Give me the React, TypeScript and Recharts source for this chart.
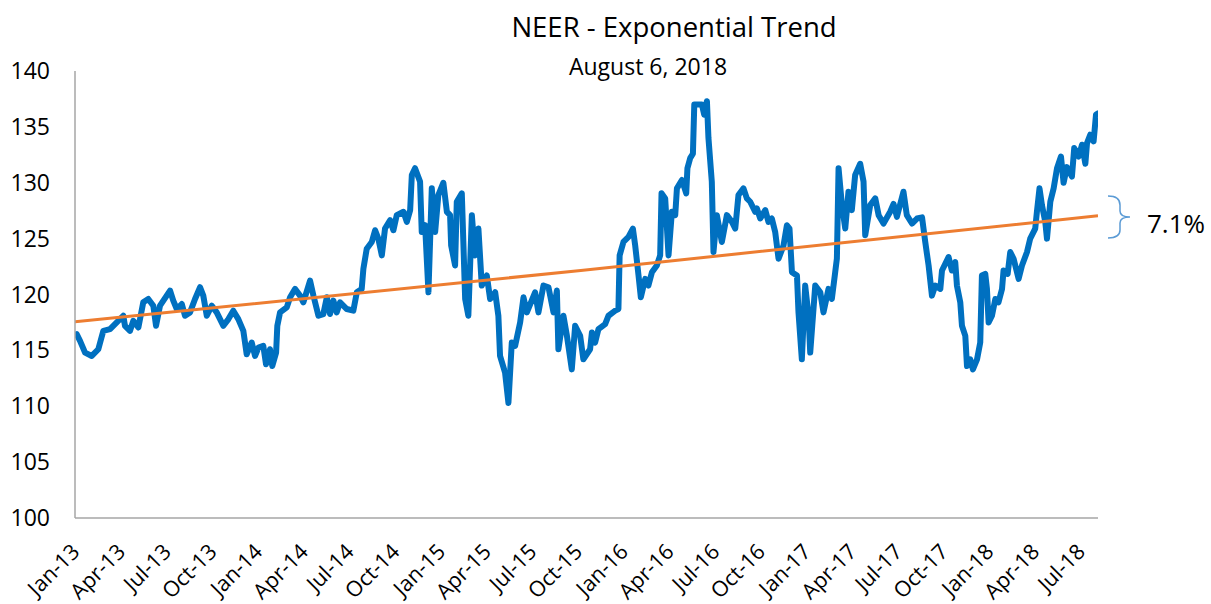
import { LineChart, Line, XAxis, YAxis } from 'recharts'

// months since Jan-13
const NEER_MONTHS = [
  0.11, 0.33, 0.66, 1.1, 1.53, 1.86, 2.3, 2.74, 3.17, 3.28, 3.61, 3.83, 4.16, 4.48, 4.81, 5.14, 5.32, 5.58,
  6.02, 6.24, 6.45, 6.68, 7.01, 7.22, 7.55, 7.88, 8.21, 8.42, 8.65, 8.98, 9.3, 9.74, 10.07, 10.39, 10.72,
  11.05, 11.27, 11.6, 11.82, 12.04, 12.36, 12.54, 12.8, 12.95, 13.2, 13.28, 13.46, 13.9, 14.12, 14.44,
  14.77, 14.99, 15.43, 15.65, 15.98, 16.3, 16.53, 16.74, 16.96, 17.18, 17.4, 17.84, 18.27, 18.5, 18.82,
  18.93, 19.15, 19.48, 19.7, 19.91, 20.14, 20.35, 20.68, 20.9, 21.12, 21.56, 21.78, 22.0, 22.11, 22.32,
  22.65, 22.76, 22.98, 23.2, 23.42, 23.64, 23.85, 24.18, 24.41, 24.62, 24.69, 24.95, 25.06, 25.39, 25.61,
  25.82, 26.05, 26.26, 26.48, 26.7, 27.03, 27.25, 27.58, 27.79, 27.9, 28.23, 28.45, 28.67, 28.89, 29.22,
  29.44, 29.66, 30.2, 30.42, 30.75, 31.08, 31.41, 31.63, 31.73, 32.06, 32.29, 32.61, 32.83, 33.16, 33.37,
  33.81, 33.93, 34.14, 34.36, 34.8, 35.02, 35.46, 35.67, 35.75, 36.0, 36.33, 36.62, 36.77, 36.99, 37.14,
  37.43, 37.64, 37.87, 38.19, 38.41, 38.5, 38.74, 38.96, 39.18, 39.4, 39.51, 39.84, 40.12, 40.2, 40.38,
  40.56, 40.65, 41.15, 41.3, 41.48, 41.58, 41.8, 41.91, 42.13, 42.46, 42.79, 43.12, 43.34, 43.55, 43.88,
  44.1, 44.32, 44.65, 44.76, 44.98, 45.31, 45.52, 45.74, 45.96, 46.18, 46.51, 46.73, 46.9, 47.06, 47.39,
  47.49, 47.71, 47.93, 48.15, 48.26, 48.59, 48.92, 49.13, 49.46, 49.68, 49.9, 50.01, 50.12, 50.34, 50.56,
  50.77, 50.99, 51.21, 51.54, 51.76, 51.87, 52.2, 52.53, 52.75, 53.07, 53.51, 53.73, 53.95, 54.38, 54.6,
  54.94, 55.27, 55.6, 55.81, 56.03, 56.25, 56.47, 56.8, 56.91, 57.34, 57.56, 57.78, 57.89, 58.11, 58.22,
  58.44, 58.55, 58.76, 58.94, 59.21, 59.42, 59.53, 59.75, 59.86, 59.97, 60.19, 60.41, 60.62, 60.85, 60.95,
  61.22, 61.39, 61.61, 61.94, 62.16, 62.49, 62.7, 63.03, 63.14, 63.31, 63.47, 63.69, 63.8, 64.02, 64.24,
  64.46, 64.72, 64.89, 65.11, 65.44, 65.59, 65.88, 66.1, 66.32, 66.43, 66.64, 66.86, 67.02, 67.15,
]

const NEER_VALUES = [
  116.45, 115.85, 114.8, 114.5, 115.1, 116.75, 116.9, 117.5, 118.1, 117.2, 116.75, 117.65, 117.05, 119.3, 119.6, 119.0, 117.2, 119.0,
  119.9, 120.35, 119.45, 118.7, 119.15, 118.1, 118.4, 119.6, 120.65, 119.9, 118.1, 119.0, 118.4, 117.2, 117.8, 118.55, 117.8,
  116.75, 114.65, 115.7, 114.5, 115.25, 115.4, 113.75, 115.1, 113.6, 114.8, 117.2, 118.4, 118.85, 119.75, 120.5,
  119.9, 119.3, 121.25, 119.9, 118.1, 118.25, 119.75, 118.25, 119.45, 118.4, 119.3, 118.7, 118.55, 120.2, 120.5,
  122.3, 124.1, 124.7, 125.75, 125.0, 123.5, 125.9, 126.65, 125.75, 127.1, 127.4, 126.5, 127.55, 130.7, 131.3,
  130.1, 125.6, 126.2, 120.2, 129.5, 125.6, 128.9, 130.0, 127.4, 127.1, 124.4, 122.6, 128.3, 129.05, 119.6,
  118.1, 127.1, 123.5, 125.9, 120.8, 121.7, 119.6, 120.2, 118.1, 114.5, 113.0, 110.3, 115.7, 115.4, 117.5,
  119.75, 118.4, 120.2, 118.4, 120.8, 120.65, 118.4, 120.35, 115.1, 118.1, 116.3, 113.3, 117.2, 116.3, 114.2,
  115.1, 116.6, 115.7, 116.9, 117.35, 118.1, 118.55, 118.7, 123.5, 124.7, 125.15, 125.9, 124.4, 121.7, 119.75,
  121.4, 120.8, 122.0, 122.6, 123.5, 129.05, 128.6, 123.5, 127.4, 127.1, 129.5, 130.25, 129.05, 131.3, 132.2,
  132.6, 137.0, 137.0, 136.1, 137.3, 134.0, 130.1, 123.8, 127.1, 124.7, 127.1, 126.5, 125.9, 128.9, 129.5,
  128.6, 128.3, 127.4, 127.7, 126.8, 127.55, 126.5, 126.8, 125.6, 123.2, 124.4, 126.2, 125.9, 122.0, 121.7,
  118.4, 114.2, 120.8, 118.1, 114.8, 120.8, 120.2, 118.4, 120.5, 119.6, 122.0, 123.2, 131.3, 128.0, 125.9,
  129.2, 127.55, 130.7, 131.7, 130.1, 125.3, 128.0, 128.6, 127.1, 126.35, 127.4, 128.1, 126.95, 129.2, 127.1,
  126.35, 126.8, 126.9, 124.7, 122.6, 119.9, 120.8, 120.5, 122.15, 123.35, 122.15, 122.9, 120.8, 119.3, 117.2,
  116.3, 113.6, 114.2, 113.3, 114.2, 115.7, 121.7, 121.85, 120.5, 117.5, 118.1, 119.6, 119.3, 120.5, 122.15,
  121.85, 123.8, 123.2, 121.4, 122.6, 123.8, 125.0, 125.9, 127.4, 129.5, 128.0, 126.5, 125.0, 128.3, 129.5,
  131.3, 132.35, 130.0, 131.4, 130.55, 133.1, 132.35, 133.4, 131.7, 133.55, 134.3, 133.7, 136.1, 136.2,
]

const TREND_MONTHS = [0, 33.2, 67.15]
const TREND_VALUES = [117.55, 122.15, 127.05]

const X_LABELS = [
  'Jan-13', 'Apr-13', 'Jul-13', 'Oct-13', 'Jan-14', 'Apr-14', 'Jul-14', 'Oct-14',
  'Jan-15', 'Apr-15', 'Jul-15', 'Oct-15', 'Jan-16', 'Apr-16', 'Jul-16', 'Oct-16',
  'Jan-17', 'Apr-17', 'Jul-17', 'Oct-17', 'Jan-18', 'Apr-18', 'Jul-18',
]
const Y_TICKS = [100, 105, 110, 115, 120, 125, 130, 135, 140]

const FONT = "'Open Sans', sans-serif"
const BLUE = '#0070C0'
const ORANGE = '#ED7D31'
const AXIS = '#A6A6A6'

const neer = NEER_MONTHS.map((m, i) => ({ m, v: NEER_VALUES[i] }))
const trend = TREND_MONTHS.map((m, i) => ({ m, v: TREND_VALUES[i] }))
const xTicks = X_LABELS.map((_, i) => i * 3)

function XTick({ x, y, payload }: any) {
  const label = X_LABELS[Math.round(payload.value / 3)]
  const ax = x + 6
  const ay = y + 35
  return (
    <text
      x={ax} y={ay}
      textAnchor="end"
      transform={`rotate(-45, ${ax}, ${ay})`}
      fontFamily={FONT} fontSize={21.5} fill="#000"
    >
      {label}
    </text>
  )
}

function YTick({ x, y, payload }: any) {
  return (
    <text x={x - 25} y={y + 8} textAnchor="end" fontFamily={FONT} fontSize={23} fill="#000">
      {payload.value}
    </text>
  )
}

export default function App() {
  return (
    <div style={{ position: 'absolute', left: 0, top: 0, width: 1211, height: 604, background: '#fff' }}>
      <LineChart width={1211} height={604} margin={{ top: 71, right: 113, bottom: 26, left: 15 }}>
        <XAxis
          type="number"
          dataKey="m"
          domain={[0, 67.15]}
          ticks={xTicks}
          interval={0}
          height={60}
          tickSize={0}
          tickMargin={0}
          tickLine={false}
          axisLine={{ stroke: AXIS, strokeWidth: 1.5 }}
          tick={<XTick />}
          allowDataOverflow
        />
        <YAxis
          type="number"
          domain={[100, 140]}
          ticks={Y_TICKS}
          interval={0}
          width={60}
          tickSize={0}
          tickMargin={0}
          tickLine={false}
          axisLine={{ stroke: AXIS, strokeWidth: 1.5 }}
          tick={<YTick />}
        />
        <Line
          data={neer}
          dataKey="v"
          stroke={BLUE}
          strokeWidth={6}
          strokeLinejoin="round"
          strokeLinecap="round"
          dot={false}
          activeDot={false}
          isAnimationActive={false}
        />
        <Line
          data={trend}
          dataKey="v"
          stroke={ORANGE}
          strokeWidth={3}
          dot={false}
          activeDot={false}
          isAnimationActive={false}
        />
      </LineChart>

      {/* title, subtitle and the bracket annotation */}
      <svg width={1211} height={604} style={{ position: 'absolute', left: 0, top: 0, pointerEvents: 'none' }}>
        <text x={674} y={37} textAnchor="middle" fontFamily={FONT} fontSize={27.5} fill="#000">
          NEER - Exponential Trend
        </text>
        <text x={648} y={75} textAnchor="middle" fontFamily={FONT} fontSize={23} fill="#000">
          August 6, 2018
        </text>
        <path
          d="M1108,196 Q1120,196 1120,205 L1120,211 Q1120,217 1130,217 Q1120,217 1120,223 L1120,230 Q1120,238 1108,238"
          fill="none" stroke="#5B9BD5" strokeWidth={1.5}
        />
        <text x={1147} y={233} fontFamily={FONT} fontSize={26} fill="#000">7.1%</text>
      </svg>
    </div>
  )
}
